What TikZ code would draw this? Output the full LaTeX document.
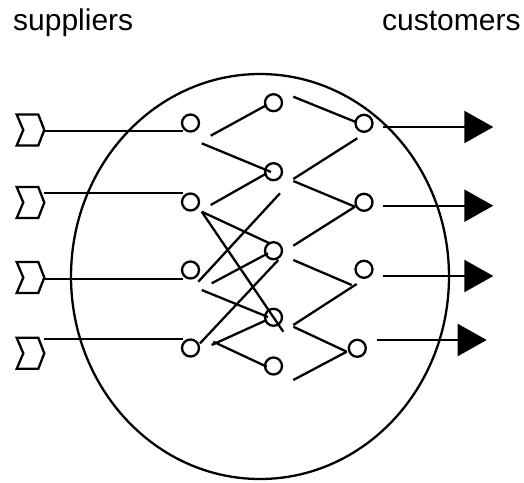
\documentclass[tikz,border=0pt]{standalone}
\usepackage{fontspec}
\setmainfont{Liberation Sans}
\usetikzlibrary{arrows.meta,shapes.geometric}
\begin{document}
\begin{tikzpicture}[x=1pt,y=-1pt,
  line width=2.3pt,
  dot/.style={circle,draw,minimum size=17pt,inner sep=0pt},
  ring/.style={ellipse,draw,minimum width=378pt,minimum height=405pt,inner sep=0pt},
  label/.style={anchor=base west,inner sep=0pt,font=\fontsize{30}{36}\selectfont},
  chev/.style={line join=miter},
  outarrow/.style={-{Triangle[length=29pt,width=32pt]}}
]
\useasboundingbox (0,0) rectangle (524,482);

% titles
\node[label] (sup) at (12,30) {suppliers};
\node[label] (cus) at (381,30) {customers};

% big circle
\node[ring] (big) at (260,276.5) {};

% column nodes
\node[dot] (C1) at (190.5,123) {};
\node[dot] (C2) at (190.5,202) {};
\node[dot] (C3) at (190.5,270) {};
\node[dot] (C4) at (190.5,348) {};

\node[dot] (M1) at (273.5,102.7) {};
\node[dot] (M2) at (273.5,171.7) {};
\node[dot] (M3) at (273.5,250.7) {};
\node[dot] (M4) at (273.5,317.3) {};
\node[dot] (M5) at (273.5,366) {};

\node[dot] (R1) at (364,123.3) {};
\node[dot] (R2) at (364,202.3) {};
\node[dot] (R3) at (364,269.3) {};
\node[dot] (R4) at (357.3,348.3) {};

% supplier chevrons (tip coordinates)
\coordinate (S1) at (44.3,130);
\coordinate (S2) at (44.3,202.5);
\coordinate (S3) at (44.3,277.5);
\coordinate (S4) at (44.3,353.3);
\foreach \s in {S1,S2,S3,S4}{
  \draw[chev] (\s) -- ([shift={(-6,-15.5)}]\s) -- ([shift={(-27.6,-15.5)}]\s)
    -- ([shift={(-21,0)}]\s) -- ([shift={(-27.6,15.5)}]\s)
    -- ([shift={(-6,15.5)}]\s) -- cycle;
}

% supplier lines
\draw ([shift={(0,1)}]S1) -- ([shift={(-7.8,8)}]C1.center);
\draw ([shift={(0,-9.8)}]S2) -- ([shift={(-7.8,-9.3)}]C2.center);
\draw ([shift={(0,1.5)}]S3) -- ([shift={(-7.8,9)}]C3.center);
\draw ([shift={(0,-14)}]S4) -- ([shift={(-7.8,-8.7)}]C4.center);

% first to second column
\draw ([shift={(20.2,12.7)}]C1.center) -- ([shift={(-6.8,2.3)}]M1.center);
\draw ([shift={(11.2,20.3)}]C1.center) -- ([shift={(-2.5,0.3)}]M2.center);
\draw ([shift={(20.2,3)}]C2.center) -- ([shift={(-6.8,1.6)}]M2.center);
\draw ([shift={(11.2,9.7)}]C2.center) -- ([shift={(-4.5,-7.7)}]M3.center);
\draw ([shift={(11.2,9.7)}]C2.center) -- ([shift={(9.8,14.4)}]M4.center);
\draw ([shift={(7.8,11.7)}]C3.center) -- ([shift={(6.5,21.6)}]M2.center);
\draw ([shift={(21.2,13.3)}]C3.center) -- ([shift={(-5.5,2.6)}]M3.center);
\draw ([shift={(11.2,20)}]C3.center) -- ([shift={(-5.5,-0.3)}]M4.center);
\draw ([shift={(9.5,-4.7)}]C4.center) -- ([shift={(4.8,9.3)}]M3.center);
\draw ([shift={(21.2,-3)}]C4.center) -- ([shift={(-6.8,2.7)}]M4.center);
\draw ([shift={(22.8,-6.3)}]C4.center) -- ([shift={(-6.8,0.7)}]M5.center);

% second to third column
\draw ([shift={(19.8,-6)}]M1.center) -- ([shift={(-9,-1.6)}]R1.center);
\draw ([shift={(19.8,7.3)}]M2.center) -- ([shift={(-6.7,15)}]R1.center);
\draw ([shift={(19.8,9.3)}]M2.center) -- ([shift={(-9,4.4)}]R2.center);
\draw ([shift={(19.8,-5)}]M3.center) -- ([shift={(-9,4.4)}]R2.center);
\draw ([shift={(19.8,9.3)}]M3.center) -- ([shift={(-12.3,15.7)}]R3.center);
\draw ([shift={(19.8,7.7)}]M4.center) -- ([shift={(-7.3,14.7)}]R3.center);
\draw ([shift={(19.8,9.4)}]M4.center) -- ([shift={(-10.6,3.4)}]R4.center);
\draw ([shift={(19.8,14)}]M5.center) -- ([shift={(-10.6,3.4)}]R4.center);

% customer arrows
\coordinate (T1) at (493.3,127);
\coordinate (T2) at (493.3,205.7);
\coordinate (T3) at (493.3,276);
\coordinate (T4) at (486.7,340);
\draw[outarrow] ([shift={(19.3,3.7)}]R1.center) -- (T1);
\draw[outarrow] ([shift={(19.3,3.4)}]R2.center) -- (T2);
\draw[outarrow] ([shift={(19.3,6.7)}]R3.center) -- (T3);
\draw[outarrow] ([shift={(19.4,-8.3)}]R4.center) -- (T4);
\end{tikzpicture}
\end{document}
